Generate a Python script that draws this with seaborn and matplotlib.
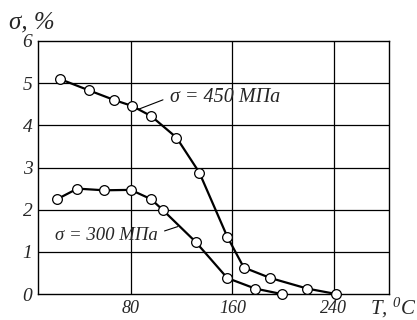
import numpy as np
import pandas as pd
import matplotlib
matplotlib.use("Agg")
import matplotlib.pyplot as plt
import seaborn as sns

# sigma = 450 MPa
t_450 = [24, 47, 67, 81, 96, 116, 134, 156, 169, 190, 219, 242]
e_450 = [5.1, 4.83, 4.6, 4.46, 4.22, 3.71, 2.88, 1.36, 0.63, 0.38, 0.13, 0.0]
# sigma = 300 MPa
t_300 = [22, 38, 59, 80, 96, 105, 131, 156, 178, 199]
e_300 = [2.25, 2.5, 2.46, 2.47, 2.25, 2.0, 1.24, 0.38, 0.13, 0.0]

x_ticks = [80, 160, 240]
y_ticks = [0, 1, 2, 3, 4, 5, 6]

sns.set_style("white")
plt.rcParams['font.family'] = ['Liberation Serif', 'DejaVu Serif']
plt.rcParams['mathtext.fontset'] = 'custom'
plt.rcParams['mathtext.it'] = 'Liberation Serif:italic'
plt.rcParams['mathtext.rm'] = 'Liberation Serif:italic'

fig = plt.figure(figsize=(4.17, 3.2), dpi=100)
ax = fig.add_axes([0.091, 0.081, 0.842, 0.791])

for xv in x_ticks:
    ax.axvline(xv, color='black', lw=0.9, zorder=1)
for yv in y_ticks[1:-1]:
    ax.axhline(yv, color='black', lw=0.9, zorder=1)

df450 = pd.DataFrame({'T': t_450, 'e': e_450})
df300 = pd.DataFrame({'T': t_300, 'e': e_300})
for d in (df450, df300):
    sns.lineplot(data=d, x='T', y='e', ax=ax, color='black', lw=1.6,
                 marker='o', markersize=7, markerfacecolor='white',
                 markeredgecolor='black', markeredgewidth=0.9, zorder=3,
                 clip_on=False)

ax.set_xlim(6.9, 283.4)
ax.set_ylim(0, 6)
ax.set_xticks(x_ticks)
ax.set_yticks(y_ticks)
ax.set_xticklabels([str(v) for v in x_ticks], fontstyle='italic', fontsize=13)
ax.set_yticklabels([str(v) for v in y_ticks], fontstyle='italic', fontsize=14)
ax.tick_params(length=0, pad=4)
ax.set_xlabel('')
ax.set_ylabel('')
for s in ax.spines.values():
    s.set_color('black')
    s.set_linewidth(1.0)

# annotations
ax.annotate('σ = 450 МПа', xy=(86, 4.38), xytext=(111, 4.67),
            fontsize=14.5, fontstyle='italic', va='center',
            arrowprops=dict(arrowstyle='-', color='black', lw=0.8,
                            shrinkA=3, shrinkB=0, relpos=(0, 0.5)))
ax.annotate('σ = 300 МПа', xy=(117, 1.6), xytext=(20, 1.4),
            fontsize=13.5, fontstyle='italic', va='center',
            arrowprops=dict(arrowstyle='-', color='black', lw=0.8,
                            shrinkA=3, shrinkB=0, relpos=(1, 0.6)))

fig.text(0.022, 0.91, 'σ, %', fontsize=18, fontstyle='italic')
fig.text(0.888, 0.018, 'T, $^0$C', fontsize=15, fontstyle='italic')

fig.savefig('out.png', dpi=100)
